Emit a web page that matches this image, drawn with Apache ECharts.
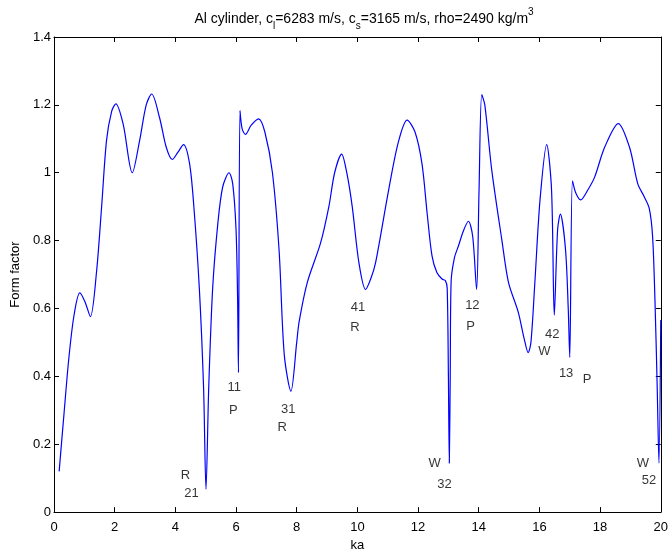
<!DOCTYPE html>
<html>
<head>
    <meta charset="utf-8">
    <title>Form factor</title>
    <script src="https://cdn.jsdelivr.net/npm/echarts@6/dist/echarts.min.js"></script>
    <style>
        html, body { margin: 0; padding: 0; background: #fff; overflow: hidden; }
        #chart { width: 671px; height: 557px; }
    </style>
</head>
<body>
<div id="chart"></div>
<script type="text/javascript">
// ka values and form factor
var ka = [
    0.17, 0.33, 0.49, 0.66, 0.85, 1.02, 1.2, 1.4, 1.57, 1.73, 1.9, 2.04, 2.28, 2.58, 2.82, 3.04, 3.22, 3.48, 3.7, 3.9,
    4.08, 4.27, 4.47, 4.61, 4.79, 4.93, 5.01, 5.1, 5.23, 5.4, 5.56, 5.77, 5.89, 6.0, 6.05, 6.08, 6.13, 6.2, 6.31, 6.5,
    6.74, 6.95, 7.2, 7.42, 7.59, 7.81, 8.0, 8.08, 8.35, 8.79, 9.06, 9.25, 9.48, 9.65, 9.83, 10.05, 10.27, 10.45, 10.6, 11.03,
    11.35, 11.64, 11.9, 12.13, 12.3, 12.46, 12.62, 12.79, 12.9, 12.96, 13.0, 13.03, 13.06, 13.09, 13.2, 13.33, 13.5, 13.66, 13.8, 13.93,
    14.01, 14.1, 14.2, 14.43, 14.76, 14.98, 15.3, 15.5, 15.63, 15.72, 15.85, 16.02, 16.24, 16.4, 16.49, 16.6, 16.69, 16.86, 16.95, 17.0,
    17.09, 17.2, 17.36, 17.6, 17.82, 18.15, 18.6, 18.97, 19.24, 19.45, 19.62, 19.73, 19.81, 19.88, 19.94, 20.0
];
var formFactor = [
    0.12, 0.29, 0.454, 0.58, 0.646, 0.62, 0.576, 0.706, 0.9, 1.094, 1.181, 1.203, 1.143, 1.0, 1.094, 1.2, 1.232, 1.162, 1.075, 1.039,
    1.06, 1.083, 1.026, 0.9, 0.66, 0.367, 0.067, 0.367, 0.66, 0.85, 0.958, 1.0, 0.968, 0.833, 0.639, 0.411, 1.183, 1.13, 1.113, 1.14,
    1.159, 1.12, 1.0, 0.77, 0.464, 0.356, 0.5, 0.561, 0.677, 0.794, 0.9, 1.0, 1.055, 1.0, 0.9, 0.735, 0.656, 0.69, 0.735, 0.949,
    1.09, 1.155, 1.12, 1.026, 0.88, 0.755, 0.706, 0.687, 0.682, 0.66, 0.4, 0.144, 0.4, 0.68, 0.75, 0.784, 0.83, 0.857, 0.813, 0.656,
    0.949, 1.23, 1.2, 1.007, 0.803, 0.677, 0.59, 0.51, 0.47, 0.5, 0.677, 0.92, 1.083, 0.949, 0.58, 0.833, 0.878, 0.774, 0.6, 0.456,
    0.976, 0.94, 0.92, 0.95, 0.987, 1.075, 1.145, 1.075, 0.968, 0.93, 0.895, 0.813, 0.62, 0.377, 0.144, 0.566
];

// mode labels placed near the dips
var labelText = ['R', '21', '11', 'P', '31', 'R', '41', 'R', 'W', '32', '12', 'P', '42', 'W', '13', 'P', 'W', '52'];
var labelKa   = [4.33, 4.53, 5.94, 5.91, 7.72, 7.52, 10.02, 9.92, 12.55, 12.87, 13.79, 13.73, 16.42, 16.16, 16.88, 17.57, 19.41, 19.61];
var labelFF   = [0.109, 0.054, 0.368, 0.301, 0.304, 0.249, 0.604, 0.543, 0.144, 0.083, 0.609, 0.548, 0.525, 0.473, 0.409, 0.392, 0.144, 0.092];

var font = 'Liberation Sans, Arial, Helvetica, sans-serif';
var ink = '#000';

var chart = echarts.init(document.getElementById('chart'), null, {renderer: 'canvas', width: 671, height: 557});

var curve = ka.map(function (k, i) { return [k, formFactor[i]]; });
var labels = labelText.map(function (t, i) { return {name: t, value: [labelKa[i], labelFF[i]]}; });

function boxAxis(extra) {
    return Object.assign({
        axisLine: {show: true, onZero: false, lineStyle: {color: ink, width: 1}},
        axisTick: {show: true, inside: true, length: 5, lineStyle: {color: ink}},
        splitLine: {show: false}
    }, extra);
}

var option = {
    animation: false,
    backgroundColor: '#fff',
    title: {
        text: '{a|Al cylinder, c}{s|l}{a|=6283 m/s, c}{s|s}{a|=3165 m/s, rho=2490 kg/m}{p|3}',
        left: 359,
        top: 2,
        textAlign: 'center',
        textStyle: {
            fontWeight: 'normal',
            rich: {
                a: {fontFamily: font, fontSize: 14, fontWeight: 'normal', color: ink, lineHeight: 24, verticalAlign: 'middle'},
                s: {fontFamily: font, fontSize: 10, fontWeight: 'normal', color: ink, lineHeight: 24, verticalAlign: 'bottom'},
                p: {fontFamily: font, fontSize: 10, fontWeight: 'normal', color: ink, lineHeight: 24, verticalAlign: 'top'}
            }
        }
    },
    grid: {left: 54, top: 37, width: 609, height: 482, containLabel: false},
    xAxis: [
        boxAxis({
            type: 'value', min: 0, max: 20, interval: 2,
            name: 'ka', nameLocation: 'middle', nameGap: 22,
            nameTextStyle: {fontFamily: font, fontSize: 13, color: ink},
            axisLabel: {fontFamily: font, fontSize: 13, color: ink, margin: 9}
        }),
        boxAxis({
            type: 'value', min: 0, max: 20, interval: 2, position: 'top',
            axisLabel: {show: false}
        })
    ],
    yAxis: [
        boxAxis({
            type: 'value', min: 0, max: 1.4, interval: 0.2,
            name: 'Form factor', nameLocation: 'middle', nameGap: 25,
            nameTextStyle: {fontFamily: font, fontSize: 13, color: ink},
            axisLabel: {fontFamily: font, fontSize: 13, color: ink, margin: 3,
                formatter: function (v) { return String(Math.round(v * 10) / 10); }}
        }),
        boxAxis({
            type: 'value', min: 0, max: 1.4, interval: 0.2, position: 'right',
            axisLabel: {show: false}
        })
    ],
    series: [
        {
            type: 'line',
            data: curve,
            smooth: 0.3,
            symbol: 'none',
            lineStyle: {color: '#0000ff', width: 1.2},
            clip: true
        },
        {
            type: 'scatter',
            data: labels,
            symbolSize: 1,
            itemStyle: {color: 'rgba(0,0,0,0)'},
            label: {
                show: true, position: 'inside',
                formatter: function (p) { return p.name; },
                fontFamily: font, fontSize: 13, color: ink
            }
        }
    ]
};

chart.setOption(option);
</script>
</body>
</html>
